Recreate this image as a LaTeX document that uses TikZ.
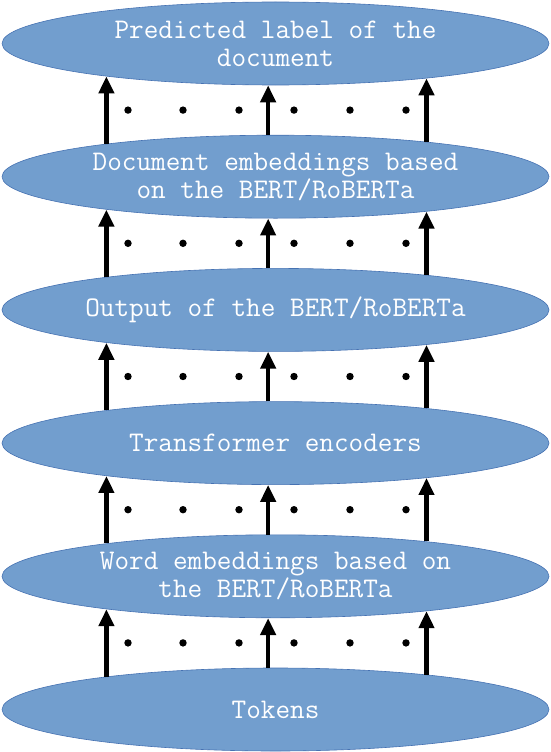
\documentclass[tikz,border=0pt]{standalone}
\usepackage{fontspec}
\usetikzlibrary{shapes.geometric,arrows.meta}
\definecolor{ellfill}{RGB}{114,158,206}
\definecolor{elldraw}{RGB}{70,114,178}
\tikzset{
  layer/.style={ellipse, draw=elldraw, fill=ellfill, line width=0.6pt,
    minimum width=547pt, minimum height=83pt, inner sep=0pt,
    text=white, align=center,
    font=\ttfamily\fontsize{28.4pt}{28pt}\selectfont},
  arr/.style={line width=4.5pt, -{Triangle[width=15pt,length=17pt]}},
  dot/.style={fill=black}
}
\begin{document}
\begin{tikzpicture}[x=1pt,y=-1pt]
\useasboundingbox (0,0) rectangle (551,752);
\node[layer] (l6) at (275.5,43.5) {Predicted label of the\\document};
\node[layer] (l5) at (275.5,176.7) {Document embeddings based\\on the BERT/RoBERTa};
\node[layer] (l4) at (275.5,309.9) {Output of the BERT/RoBERTa};
\node[layer] (l3) at (275.5,443.1) {Transformer encoders};
\node[layer] (l2) at (275.5,576.3) {Word embeddings based on\\the BERT/RoBERTa};
\node[layer] (l1) at (275.5,709.5) {Tokens};
\foreach \lo/\hi in {l1/l2,l2/l3,l3/l4,l4/l5,l5/l6}{
  \draw[arr] (\lo.169.3) -- (\hi.-169.3);
  \draw[arr] (\lo.100.2) -- (\hi.-100.2);
  \draw[arr] (\lo.13.0) -- (\hi.-13.0);
  \path (\lo.north) -- (\hi.south) coordinate[pos=0.5] (m);
  \foreach \x in {128,183,239,294,350,406}{
    \fill[dot] (m -| \x,0) circle[radius=3.7pt];
  }
}
\end{tikzpicture}
\end{document}
